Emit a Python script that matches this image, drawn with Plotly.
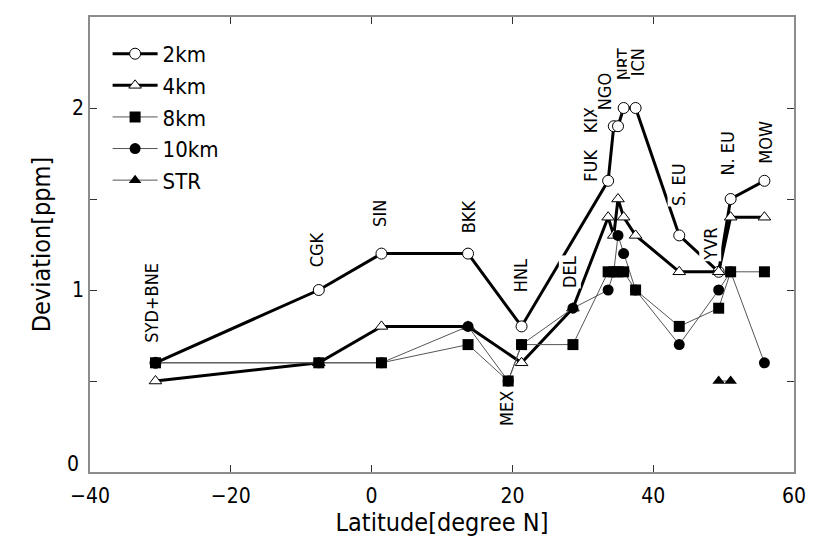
import plotly.graph_objects as go

# Station latitudes [degree N]
stations = ["SYD+BNE", "CGK", "SIN", "BKK", "MEX", "HNL", "DEL", "FUK", "KIX",
            "NGO", "NRT", "ICN", "S.EU", "YVR", "N.EU", "MOW"]
lat = [-30.7, -7.5, 1.4, 13.7, 19.4, 21.3, 28.6, 33.6, 34.4,
       35.0, 35.8, 37.5, 43.7, 49.3, 51.0, 55.8]

# Deviation [ppm] per altitude (None = no data)
dev_2km = [0.6, 1.0, 1.2, 1.2, None, 0.8, None, 1.6, 1.9, 1.9, 2.0, 2.0, 1.3, 1.1, 1.5, 1.6]
dev_4km = [0.5, 0.6, 0.8, 0.8, None, 0.6, 0.9, 1.4, 1.3, 1.5, 1.4, 1.3, 1.1, 1.1, 1.4, 1.4]
dev_8km = [0.6, 0.6, 0.6, 0.7, 0.5, 0.7, 0.7, 1.1, 1.1, 1.1, 1.1, 1.0, 0.8, 0.9, 1.1, 1.1]
dev_10km = [0.6, 0.6, 0.6, 0.8, 0.5, 0.7, 0.9, 1.0, 1.1, 1.3, 1.2, 1.0, 0.7, 1.0, 1.1, 0.6]
dev_str = [None, None, None, None, None, None, None, None, None, None, None, None, None, 0.5, 0.5, None]

# Axis ticks
x_ticks = [-40, -20, 0, 20, 40, 60]
y_ticks = [0, 0.5, 1, 1.5, 2]
y_ticktext = ["", "", "1", "", "2"]   # "0" is drawn as a separate label below

# Station labels (text, x, y in data units)
label_text = ["SYD+BNE", "CGK", "SIN", "BKK", "MEX", "HNL", "DEL", "FUK", "KIX",
              "NGO", "NRT", "ICN", "S. EU", "YVR", "N. EU", "MOW"]
label_x = [-31.2, -7.7, 1.1, 13.7, 19.2, 21.2, 28.2, 31.1, 31.1,
           33.1, 35.7, 37.8, 43.6, 48.1, 50.5, 55.9]
label_y = [0.93, 1.22, 1.42, 1.40, 0.35, 1.08, 1.10, 1.68, 1.93,
           2.09, 2.24, 2.25, 1.58, 1.25, 1.75, 1.81]

FONT = "Liberation Sans Narrow, DejaVu Sans Condensed, Arial Narrow, sans-serif"


def xy(vals):
    xs, ys = [], []
    for la, v in zip(lat, vals):
        if v is not None:
            xs.append(la)
            ys.append(v)
    return xs, ys


fig = go.Figure()

series = [
    ("2km", dev_2km, 3, "black", dict(symbol="circle", size=11, color="white", line=dict(width=1, color="black")), 1),
    ("4km", dev_4km, 3, "black", dict(symbol="triangle-up", size=11, color="white", line=dict(width=1, color="black")), 2),
    ("10km", dev_10km, 1, "#555555", dict(symbol="circle", size=11, color="black"), 4),
    ("8km", dev_8km, 1, "#555555", dict(symbol="square", size=11, color="black"), 3),
    ("STR", dev_str, 1, "#555555", dict(symbol="triangle-up", size=11, color="black"), 5),
]

for name, vals, w, lc, mk, rank in series:
    xs, ys = xy(vals)
    fig.add_trace(go.Scatter(
        x=xs, y=ys, mode="lines+markers", name=name,
        line=dict(color=lc, width=w), marker=mk, legendrank=rank,
    ))

for t, lx, ly in zip(label_text, label_x, label_y):
    fig.add_annotation(x=lx, y=ly, text=t, textangle=-90, showarrow=False,
                       font=dict(family=FONT, size=18, color="black"),
                       bgcolor="white", borderpad=0)

# y-axis "0" label, lifted slightly so it clears the "-40" x label
fig.add_annotation(xref="paper", yref="y", x=-0.013, y=y_ticks[0], text=str(y_ticks[0]),
                   xanchor="right", yanchor="middle", yshift=8, showarrow=False,
                   font=dict(family=FONT, size=21, color="black"))

axis_common = dict(
    showgrid=False, zeroline=False, showline=True, linecolor="#8c8c8c", linewidth=1.5,
    mirror="ticks", ticks="inside", ticklen=7, tickcolor="#333333", tickwidth=1,
    tickfont=dict(family=FONT, size=21, color="black"),
)

fig.update_xaxes(range=[-40, 60], tickvals=x_ticks,
                 ticklabelstandoff=4,
                 title=dict(text="Latitude[degree N]", font=dict(family=FONT, size=25, color="black"), standoff=0),
                 **axis_common)
fig.update_yaxes(range=[0, 2.5], tickvals=y_ticks, ticktext=y_ticktext,
                 title=dict(text="Deviation[ppm]", font=dict(family=FONT, size=25, color="black"), standoff=14),
                 **axis_common)

fig.update_layout(
    width=818, height=537,
    margin=dict(l=90, r=14, t=17, b=63),
    paper_bgcolor="white", plot_bgcolor="white",
    showlegend=True,
    legend=dict(x=0.025, y=0.965, xanchor="left", yanchor="top",
                font=dict(family=FONT, size=22, color="black"),
                bgcolor="rgba(0,0,0,0)", itemwidth=45, tracegroupgap=0),
)

fig.write_html("out.html")
